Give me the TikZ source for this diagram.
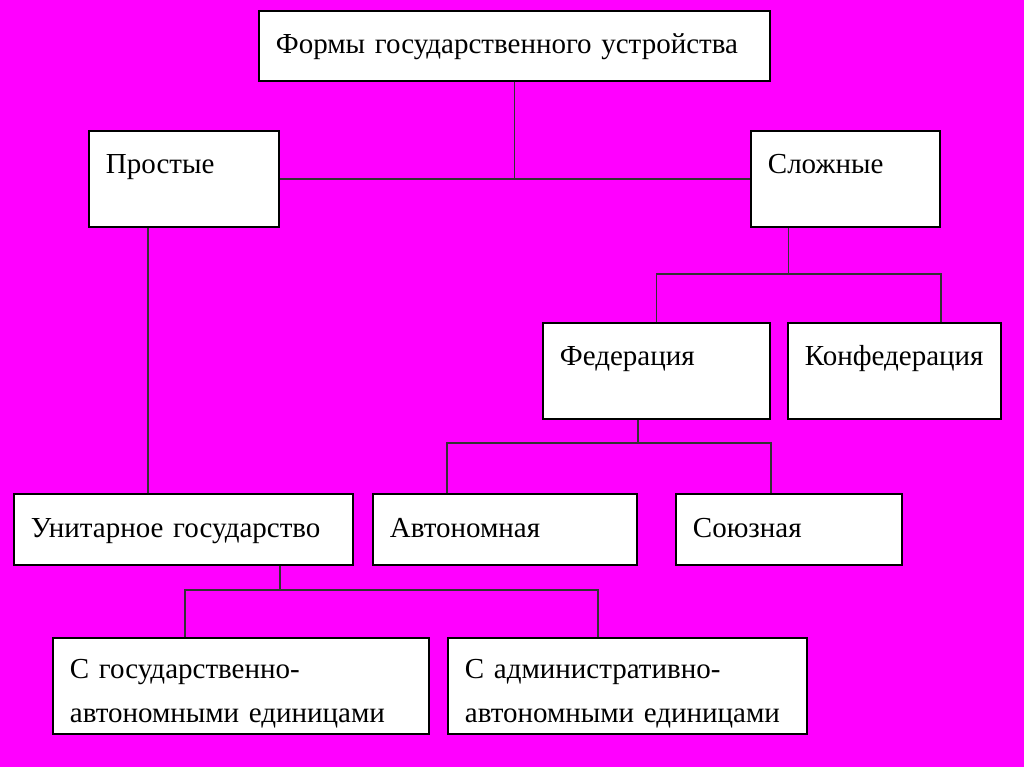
\documentclass[tikz,border=0pt]{standalone}
\usepackage{fontspec}
\setmainfont{Liberation Serif}
\usetikzlibrary{positioning}
\definecolor{bgpink}{RGB}{255,0,255}
\tikzset{
  every picture/.style={line width=1.5pt},
  blk/.style={draw,rectangle,fill=white,line width=1.8pt,anchor=north west,align=left,
    inner xsep=17pt,inner ysep=0pt,font=\fontsize{29}{44}\selectfont},
  hi/.style={minimum height=96pt},
  lo/.style={minimum height=71pt,text height=21pt,text depth=5pt},
  toptxt/.style={text height=21pt,text depth=31pt},
  twotxt/.style={text height=34pt},
  wire/.style={line width=1.4pt,draw=black!80},
}

\begin{document}
\begin{tikzpicture}[x=1pt,y=-1pt]
\useasboundingbox[fill=bgpink] (0,0) rectangle (1024,767);
% root
\node[blk,lo,minimum height=70pt,text width=477pt] (forms) at (258,10) {Формы государственного устройства};
% simple / complex
\node[blk,hi,toptxt,text width=156pt] (simple) at (88,130) {Простые};
\node[blk,hi,toptxt,text width=155pt] (complex) at (750,130) {Сложные};
\draw[wire] (forms.south) -- (forms.south |- simple.east);
\draw[wire] (simple.east) -- (complex.west);
% federation / confederation
\node[blk,hi,toptxt,text width=193pt] (fed) at (542,322) {Федерация};
\node[blk,hi,toptxt,text width=179pt] (conf) at (787,322) {Конфедерация};
\coordinate (fbar) at (0,274);
\draw[wire] ([xshift=-57pt]complex.south) -- ([xshift=-57pt]complex.south |- fbar);
\draw[wire] (fed.north) |- (fbar -| complex.east) -- (complex.east |- conf.north);
% third row
\node[blk,lo,text width=305pt] (unit) at (13,493) {Унитарное государство};
\node[blk,lo,text width=230pt] (auto) at (372,493) {Автономная};
\node[blk,lo,text width=192pt] (union) at (675,493) {Союзная};
\draw[wire] ([xshift=60pt]simple.south west) -- ([xshift=60pt]simple.south west |- unit.north);
\coordinate (abar) at (0,443);
\draw[wire] (auto.east |- fed.south) -- (auto.east |- abar);
\draw[wire] ([xshift=75pt]auto.north west) |- (abar -| fed.east) -- (fed.east |- union.north);
% unitary subtypes
\node[blk,hi,twotxt,text width=342pt] (cgos) at (52,637) {С государственно-\\автономными единицами};
\node[blk,hi,twotxt,text width=325pt] (cadm) at (447,637) {С административно-\\автономными единицами};
\coordinate (ubar) at (0,590);
\coordinate (cadmin) at ([xshift=151pt]cadm.north west);
\draw[wire] (unit.south -| simple.east) -- (simple.east |- ubar);
\draw[wire] ([xshift=133pt]cgos.north west) |- (ubar -| cadmin) -- (cadmin);
\end{tikzpicture}
\end{document}
